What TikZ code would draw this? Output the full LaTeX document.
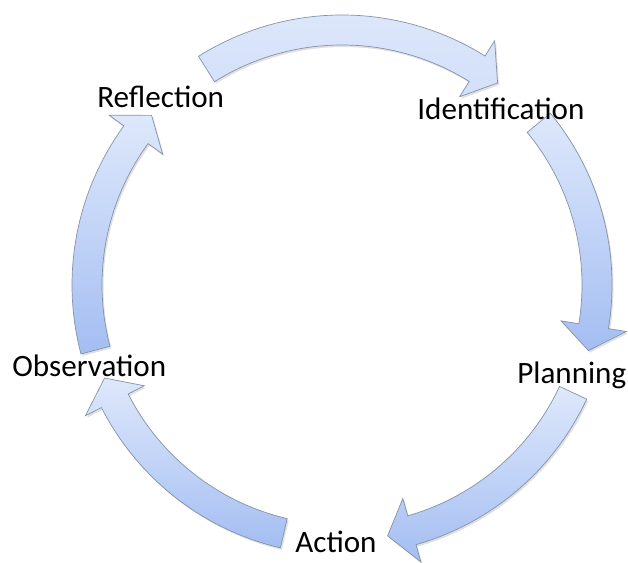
\documentclass[tikz,border=0pt]{standalone}
\usepackage{fontspec}
\setmainfont{Carlito}

% one curved block arrow of the cycle: tail angle, tip angle
\newcommand{\cyclearrow}[3][]{%
  \pgfmathsetmacro{\hb}{#3+5.6}
  \path[arrowshadow] ([shift={(1.5,-2)}]#2:270) arc[start angle=#2, end angle=\hb, radius=270]
    -- ([shift={(1.5,-2)}]\hb:288) -- ([shift={(1.5,-2)}]#3:255) -- ([shift={(1.5,-2)}]\hb:222)
    -- ([shift={(1.5,-2)}]\hb:240) arc[start angle=\hb, end angle=#2, radius=240] -- cycle;
  \path[arrowbody,#1] (#2:270) arc[start angle=#2, end angle=\hb, radius=270]
    -- (\hb:288) -- (#3:255) -- (\hb:222)
    -- (\hb:240) arc[start angle=\hb, end angle=#2, radius=240] -- cycle;
}

\definecolor{arrowtop}{HTML}{DEE8FB}
\definecolor{arrowbot}{HTML}{A4BEF2}
\definecolor{arrowline}{HTML}{8493A8}

\begin{document}
\begin{tikzpicture}[x=0.02cm,y=0.02cm,
    arrowbody/.style={draw=arrowline, line width=0.4pt, top color=arrowtop, bottom color=arrowbot},
    arrowshadow/.style={fill=black, opacity=0.12},
    lbl/.style={anchor=base west, inner sep=0pt, font=\fontsize{17.7}{21}\selectfont}]

  \useasboundingbox (0,0) rectangle (628,563);

  \begin{scope}[shift={(342,278)}]
    \cyclearrow[bottom color=arrowtop!80!arrowbot]{122.1}{52.4}
    \cyclearrow{39.5}{-14.9}
    \cyclearrow{-25}{-79.7}
    \cyclearrow{256.8}{201.4}
    \cyclearrow{194.8}{138.3}
  \end{scope}

  \node[lbl] (refl)  at (97,455)  {Reflection};
  \node[lbl] (ident) at (417,443) {Identification};
  \node[lbl] (plan)  at (517,179) {Planning};
  \node[lbl] (act)   at (295,10)  {Action};
  \node[lbl] (obs)   at (12,186)  {Observation};
\end{tikzpicture}
\end{document}
